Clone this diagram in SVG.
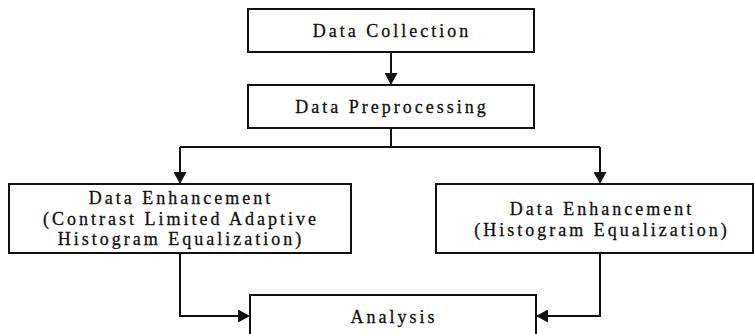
<svg xmlns="http://www.w3.org/2000/svg" width="754" height="334" viewBox="0 0 754 334">
  <style>
    .box { fill: #ffffff; stroke: #111111; stroke-width: 2; }
    .lbl { font-family: "Liberation Serif", "Times New Roman", serif; font-size: 18px; letter-spacing: 3px; fill: #111111; stroke: #111111; stroke-width: 0.3; text-anchor: middle; }
    .conn { fill: none; stroke: #111111; stroke-width: 2; }
  </style>
  <defs>
    <marker id="arrow" viewBox="0 0 12 13" refX="4" refY="6.5" markerWidth="12" markerHeight="13" markerUnits="userSpaceOnUse" orient="auto">
      <path d="M0,0 L12,6.5 L0,13 Z" fill="#111111"/>
    </marker>
  </defs>
  <rect width="754" height="334" fill="#ffffff"/>

  <g id="connectors">
    <path class="conn" d="M391,52 L391,77" marker-end="url(#arrow)"/>
    <path class="conn" d="M391,128 L391,147"/>
    <path class="conn" d="M180,147 L600,147"/>
    <path class="conn" d="M180,147 L180,176" marker-end="url(#arrow)"/>
    <path class="conn" d="M600,147 L600,176" marker-end="url(#arrow)"/>
    <path class="conn" d="M180,253 L180,316 L242,316" marker-end="url(#arrow)"/>
    <path class="conn" d="M600,253 L600,316 L544,316" marker-end="url(#arrow)"/>
  </g>

  <g id="node-collection">
    <rect class="box" x="248" y="9" width="286" height="43"/>
    <text class="lbl" x="392" y="37">Data Collection</text>
  </g>
  <g id="node-preprocessing">
    <rect class="box" x="248" y="85" width="286" height="43"/>
    <text class="lbl" x="392" y="113">Data Preprocessing</text>
  </g>
  <g id="node-clahe">
    <rect class="box" x="9" y="184" width="342" height="69"/>
    <text class="lbl" x="181" y="204">Data Enhancement</text>
    <text class="lbl" x="181" y="225">(Contrast Limited Adaptive</text>
    <text class="lbl" x="181" y="245">Histogram Equalization)</text>
  </g>
  <g id="node-he">
    <rect class="box" x="436" y="184" width="317" height="69"/>
    <text class="lbl" x="602" y="215">Data Enhancement</text>
    <text class="lbl" x="602" y="236">(Histogram Equalization)</text>
  </g>
  <g id="node-analysis">
    <rect class="box" x="250" y="295" width="286" height="50"/>
    <text class="lbl" x="394" y="323">Analysis</text>
  </g>
</svg>
